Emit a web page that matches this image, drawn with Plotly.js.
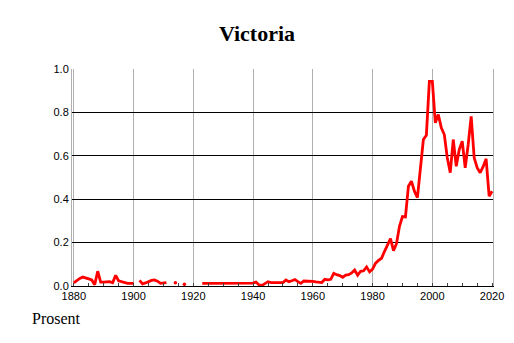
<!DOCTYPE html>
<html>
<head>
<meta charset="utf-8">
<script src="https://cdn.plot.ly/plotly-3.0.1.min.js"></script>
<style>html,body{margin:0;padding:0;background:#fff;}#chart{width:514px;height:343px;}</style>
</head>
<body>
<div id="chart"></div>
<script>
// Years 1880..2020 and share of the name (percent); null = no value that year
const startYear = 1880;
const values = [
  // 1880-1889
  0.014, 0.025, 0.035, 0.041, 0.038, 0.033, 0.028, 0.006, 0.068, 0.018,
  // 1890-1899
  0.018, 0.018, 0.020, 0.015, 0.049, 0.024, 0.020, 0.016, 0.012, 0.012,
  // 1900-1909
  0.012, null, 0.026, 0.010, 0.014, 0.020, 0.026, 0.028, 0.022, 0.012,
  // 1910-1919
  0.015, 0.016, null, null, 0.015, null, null, 0.008, null, null,
  // 1920-1929
  null, null, null, 0.012, 0.012, 0.011, 0.011, 0.013, 0.012, 0.011,
  // 1930-1939
  0.012, 0.011, 0.012, 0.013, 0.011, 0.012, 0.013, 0.012, 0.014, 0.013,
  // 1940-1949
  0.013, 0.018, 0.005, 0.003, 0.012, 0.020, 0.016, 0.016, 0.017, 0.016,
  // 1950-1959
  0.016, 0.028, 0.020, 0.024, 0.030, 0.020, 0.012, 0.023, 0.023, 0.023,
  // 1960-1969
  0.021, 0.019, 0.018, 0.016, 0.031, 0.028, 0.031, 0.058, 0.052, 0.048,
  // 1970-1979
  0.040, 0.050, 0.052, 0.060, 0.074, 0.050, 0.068, 0.070, 0.088, 0.065,
  // 1980-1989
  0.078, 0.105, 0.118, 0.128, 0.160, 0.190, 0.218, 0.163, 0.195, 0.275,
  // 1990-1999
  0.320, 0.318, 0.460, 0.483, 0.437, 0.407, 0.550, 0.675, 0.695, 0.943,
  // 2000-2009
  0.943, 0.752, 0.790, 0.729, 0.698, 0.591, 0.522, 0.675, 0.552, 0.629,
  // 2010-2019
  0.667, 0.545, 0.652, 0.782, 0.591, 0.545, 0.522, 0.550, 0.586, 0.414,
  // 2020
  0.437
];
const years = values.map((v, i) => startYear + i);

const xTickVals = [1880, 1900, 1920, 1940, 1960, 1980, 2000, 2020];
const xTickText = ['1880', '1900', '1920', '1940', '1960', '1980', '2000', '2020'];
const yTickVals = [0, 0.2, 0.4, 0.6, 0.8, 1.0];
const yTickText = ['0.0', '0.2', '0.4', '0.6', '0.8', '1.0'];

const chartTitle = 'Victoria';
const unitLabel = 'Prosent';

// isolated points (no neighbours) need a marker to be visible
const isoX = [], isoY = [];
values.forEach((v, i) => {
  const prev = i > 0 ? values[i - 1] : null;
  const next = i < values.length - 1 ? values[i + 1] : null;
  if (v !== null && prev === null && next === null) { isoX.push(years[i]); isoY.push(v); }
});

const red = '#ff0000';
const traces = [
  {x: years, y: values, type: 'scatter', mode: 'lines', connectgaps: false,
   line: {color: red, width: 2.8}, hoverinfo: 'x+y'},
  {x: isoX, y: isoY, type: 'scatter', mode: 'markers',
   marker: {color: red, size: 3.5}, hoverinfo: 'x+y'}
];

const tickFont = {family: 'Liberation Sans, Arial, sans-serif', size: 11, color: '#000'};

const layout = {
  width: 514, height: 343,
  margin: {l: 72, r: 21, t: 69, b: 57},
  paper_bgcolor: '#fff', plot_bgcolor: '#fff',
  showlegend: false,
  title: {text: '<b>' + chartTitle + '</b>', xref: 'container', x: 0.5, xanchor: 'center',
          yref: 'container', y: 1 - 33 / 343, yanchor: 'middle',
          font: {family: 'Liberation Serif, Times New Roman, serif', size: 22, color: '#000'}},
  xaxis: {
    range: [1879.4, 2020.3], tickvals: xTickVals, ticktext: xTickText,
    showgrid: true, gridcolor: '#b0b0b0', gridwidth: 1,
    zeroline: false, showline: true, linecolor: '#000', linewidth: 1, mirror: false,
    ticks: '', tickfont: tickFont, ticklabelstandoff: 0,
    minor: {dtick: 5, tick0: 1880, ticks: 'inside', ticklen: 3, tickcolor: '#444', showgrid: false},
    fixedrange: true
  },
  yaxis: {
    range: [0, 1.0], tickvals: yTickVals, ticktext: yTickText,
    showgrid: true, gridcolor: '#000', gridwidth: 1,
    zeroline: false, showline: true, linecolor: '#b0b0b0', linewidth: 1, mirror: true,
    ticks: '', tickfont: tickFont,
    fixedrange: true
  },
  annotations: [{
    text: unitLabel, xref: 'paper', yref: 'paper',
    x: (30 - 72) / 421, xanchor: 'left', y: -(318 - 286) / 217, yanchor: 'middle',
    showarrow: false,
    font: {family: 'Liberation Serif, Times New Roman, serif', size: 16, color: '#000'}
  }]
};

Plotly.newPlot('chart', traces, layout, {displayModeBar: false, staticPlot: true});
</script>
</body>
</html>
